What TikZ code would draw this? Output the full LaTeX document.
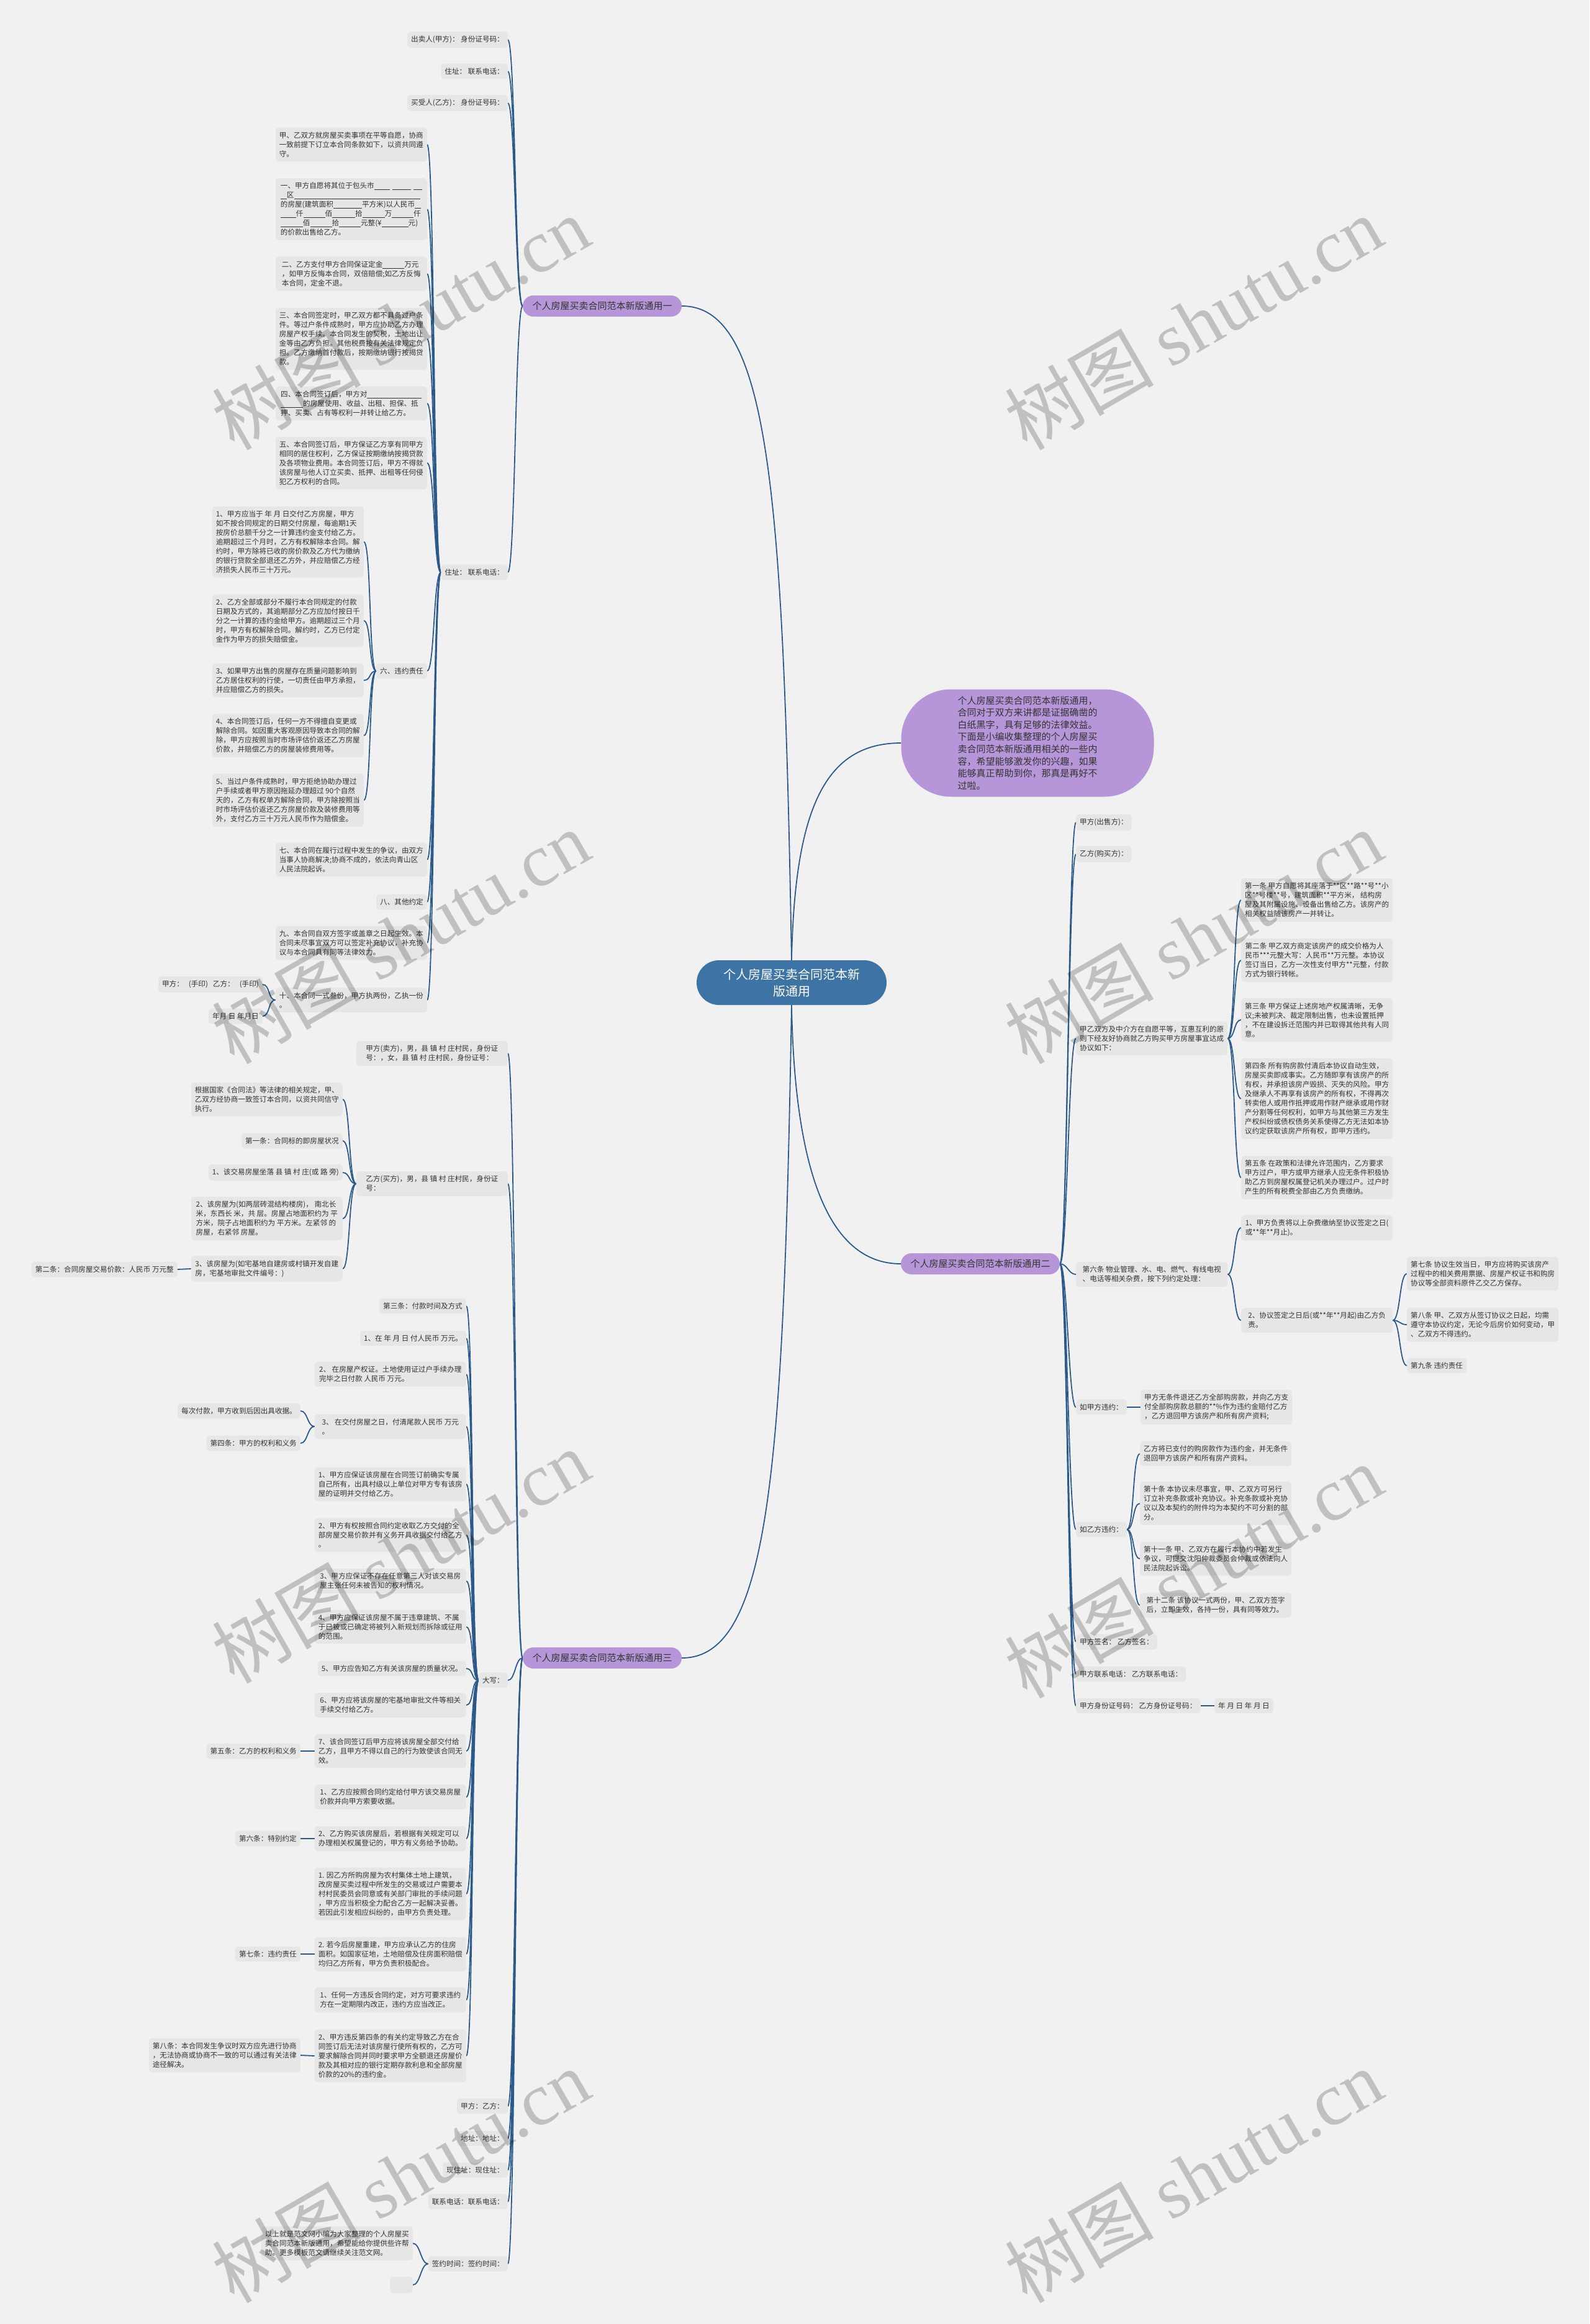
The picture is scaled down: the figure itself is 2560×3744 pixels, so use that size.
\documentclass[tikz,border=0pt]{standalone}
\usepackage{fontspec}
\setmainfont{Noto Sans CJK SC}
\newfontfamily\wmserif{Liberation Serif}
\definecolor{bgc}{RGB}{241,241,241}
\definecolor{boxc}{RGB}{230,230,230}
\definecolor{linec}{RGB}{43,90,138}
\definecolor{cenc}{RGB}{61,115,165}
\definecolor{purc}{RGB}{182,150,216}
\definecolor{txtc}{RGB}{51,51,51}
\newcommand\leaffont{\fontsize{11.6}{15}\selectfont}
\newcommand\blk[1]{\rule[-2pt]{#1pt}{0.6pt}}
\newcommand\Lcon[2]{\draw[conn] (#1.west) .. controls +(-12,0) and +(12,0) .. (#2.east);}
\newcommand\Rcon[2]{\draw[conn] (#1.east) .. controls +(12,0) and +(-12,0) .. (#2.west);}
\pgfdeclarelayer{back}
\pgfdeclarelayer{edges}
\pgfsetlayers{back,edges,main}
\tikzset{
  leaf/.style={fill=boxc, rounded corners=5pt, inner xsep=6pt, inner ysep=7pt, align=left, font=\leaffont, text=txtc},
  lf/.style={leaf, anchor=east},
  rf/.style={leaf, anchor=west},
  para/.style={minimum width=244pt},
  conn/.style={draw=linec, line width=1.8pt},
  branch/.style={fill=purc, rounded corners=17pt, minimum width=256pt, minimum height=34pt, font=\fontsize{15}{18}\selectfont, text=txtc, inner sep=0pt},
  wm/.style={rotate=30, text=black, opacity=0.2, inner sep=0pt, font=\fontsize{120}{120}\selectfont},
}
\begin{document}
\begin{tikzpicture}[x=1pt,y=-1pt]
\begin{pgfonlayer}{back}
\fill[bgc] (0,0) rectangle (2560,3744);
\end{pgfonlayer}
\useasboundingbox (0,0) rectangle (2560,3744);

% root and intro
\node[fill=cenc, rounded corners=36pt, minimum width=306pt, minimum height=72pt, align=center, font=\fontsize{20}{27}\selectfont, text=white] (root) at (1275,1583) {个人房屋买卖合同范本新\\版通用};
\node[fill=purc, rounded corners=80pt, minimum width=407pt, minimum height=173pt, align=left, font=\fontsize{15}{19.6}\selectfont, text=txtc] (intro) at (1655,1197) {个人房屋买卖合同范本新版通用，\\合同对于双方来讲都是证据确凿的\\白纸黑字，具有足够的法律效益。\\下面是小编收集整理的个人房屋买\\卖合同范本新版通用相关的一些内\\容，希望能够激发你的兴趣，如果\\能够真正帮助到你，那真是再好不\\过啦。};

\node[branch] (b1) at (970,493) {个人房屋买卖合同范本新版通用一};
\node[branch] (b2) at (1579,2036) {个人房屋买卖合同范本新版通用二};
\node[branch] (b3) at (970,2671) {个人房屋买卖合同范本新版通用三};

% ---------- branch 1 ----------
\node[lf] (a1) at (818,64) {出卖人(甲方)： 身份证号码：};
\node[lf] (a2) at (818,115) {住址： 联系电话：};
\node[lf] (a3) at (818,166) {买受人(乙方)： 身份证号码：};
\node[lf] (a4) at (818,922) {住址： 联系电话：};

\node[lf,para] (p1) at (688,233) {甲、乙双方就房屋买卖事项在平等自愿，协商\\一致前提下订立本合同条款如下，以资共同遵\\守。};
\node[lf,para] (p2) at (688,337) {一、甲方自愿将其位于包头市\blk{25}\hspace{4pt}\blk{30}\hspace{4pt}\blk{14}\\\blk{10}区\blk{203}\\的房屋(建筑面积\blk{46}平方米)以人民币\blk{10}\\\blk{25}仟\blk{35}佰\blk{37}拾\blk{36}万\blk{35}仟\\\blk{36}佰\blk{35}拾\blk{35}元整(¥\blk{43}元)\\的价款出售给乙方。};
\node[lf,para] (p3) at (688,441) {二、乙方支付甲方合同保证定金\blk{35}万元\\，如甲方反悔本合同，双倍赔偿;如乙方反悔\\本合同，定金不退。};
\node[lf,para] (p4) at (688,546) {三、本合同签定时，甲乙双方都不具备过户条\\件。等过户条件成熟时，甲方应协助乙方办理\\房屋产权手续。本合同发生的契税，土地出让\\金等由乙方负担。其他税费按有关法律规定负\\担。乙方缴纳首付款后，按期缴纳银行按揭贷\\款。};
\node[lf,para] (p5) at (688,650) {四、本合同签订后，甲方对\blk{88}\\\blk{36}的房屋使用、收益、出租、担保、抵\\押、买卖、占有等权利一并转让给乙方。};
\node[lf,para] (p6) at (688,746) {五、本合同签订后，甲方保证乙方享有同甲方\\相同的居住权利，乙方保证按期缴纳按揭贷款\\及各项物业费用。本合同签订后，甲方不得就\\该房屋与他人订立买卖、抵押、出租等任何侵\\犯乙方权利的合同。};
\node[lf] (p7) at (688,1081) {六、违约责任};
\node[lf,para] (p8) at (688,1385) {七、本合同在履行过程中发生的争议，由双方\\当事人协商解决;协商不成的，依法向青山区\\人民法院起诉。};
\node[lf] (p9) at (688,1453) {八、其他约定};
\node[lf,para] (p10) at (688,1519) {九、本合同自双方签字或盖章之日起生效。本\\合同未尽事宜双方可以签定补充协议，补充协\\议与本合同具有同等法律效力。};
\node[lf,para] (p11) at (688,1611) {十、本合同一式叁份，甲方执两份，乙执一份\\。};

\node[lf,para] (q1) at (586,873) {1、甲方应当于 年 月 日交付乙方房屋，甲方\\如不按合同规定的日期交付房屋，每逾期1天\\按房价总额千分之一计算违约金支付给乙方。\\逾期超过三个月时，乙方有权解除本合同。解\\约时，甲方除将已收的房价款及乙方代为缴纳\\的银行贷款全部退还乙方外，并应赔偿乙方经\\济损失人民币三十万元。};
\node[lf,para] (q2) at (586,1000) {2、乙方全部或部分不履行本合同规定的付款\\日期及方式的，其逾期部分乙方应加付按日千\\分之一计算的违约金给甲方。逾期超过三个月\\时，甲方有权解除合同。解约时，乙方已付定\\金作为甲方的损失赔偿金。};
\node[lf,para] (q3) at (586,1096) {3、如果甲方出售的房屋存在质量问题影响到\\乙方居住权利的行使，一切责任由甲方承担，\\并应赔偿乙方的损失。};
\node[lf,para] (q4) at (586,1185) {4、本合同签订后，任何一方不得擅自变更或\\解除合同。如因重大客观原因导致本合同的解\\除，甲方应按照当时市场评估价返还乙方房屋\\价款，并赔偿乙方的房屋装修费用等。};
\node[lf,para] (q5) at (586,1289) {5、当过户条件成熟时，甲方拒绝协助办理过\\户手续或者甲方原因拖延办理超过 90个自然\\天的，乙方有权单方解除合同，甲方除按照当\\时市场评估价返还乙方房屋价款及装修费用等\\外，支付乙方三十万元人民币作为赔偿金。};

\node[lf] (r1) at (423,1586) {甲方：\hspace{8pt}(手印)\hspace{8pt}乙方：\hspace{8pt}(手印)};
\node[lf] (r2) at (423,1637) {年月 日 年月日};

% ---------- branch 3 ----------
\node[lf,para] (c1) at (818,1697) {甲方(卖方)，男，县 镇 村 庄村民，身份证\\号：，女，县 镇 村 庄村民，身份证号：};
\node[lf,para] (c2) at (818,1907) {乙方(买方)，男，县 镇 村 庄村民，身份证\\号：};
\node[lf] (c3) at (818,2707) {大写：};
\node[lf] (c4) at (818,3393) {甲方：乙方：};
\node[lf] (c5) at (818,3445) {地址：地址：};
\node[lf] (c6) at (818,3496) {现住址：现住址：};
\node[lf] (c7) at (818,3547) {联系电话：联系电话：};
\node[lf] (c8) at (818,3647) {签约时间：签约时间：};

\node[lf,para] (d1) at (552,1771) {根据国家《合同法》等法律的相关规定，甲、\\乙双方经协商一致签订本合同，以资共同信守\\执行。};
\node[lf] (d2) at (552,1838) {第一条：合同标的即房屋状况};
\node[lf] (d3) at (552,1889) {1、该交易房屋坐落 县 镇 村 庄(或 路 旁)};
\node[lf,para] (d4) at (552,1963) {2、该房屋为(如两层砖混结构楼房)， 南北长\\米，东西长 米，共 层。房屋占地面积约为 平\\方米，院子占地面积约为 平方米。左紧邻 的\\房屋，右紧邻 房屋。};
\node[lf,para] (d5) at (552,2044) {3、该房屋为(如宅基地自建房或村镇开发自建\\房，宅基地审批文件编号：)};
\node[lf] (e1) at (286,2045) {第二条：合同房屋交易价款：人民币 万元整};

\node[lf] (f1) at (751,2104) {第三条：付款时间及方式};
\node[lf] (f2) at (751,2156) {1、在 年 月 日 付人民币 万元。};
\node[lf,para] (f3) at (751,2214) {2、 在房屋产权证。土地使用证过户手续办理\\完毕之日付款 人民币 万元。};
\node[lf,para] (f4) at (751,2298) {3、 在交付房屋之日，付清尾款人民币 万元\\。};
\node[lf,para] (f5) at (751,2391) {1、甲方应保证该房屋在合同签订前确实专属\\自己所有，出具村级以上单位对甲方专有该房\\屋的证明并交付给乙方。};
\node[lf,para] (f6) at (751,2473) {2、甲方有权按照合同约定收取乙方交付的全\\部房屋交易价款并有义务开具收据交付给乙方\\。};
\node[lf,para] (f7) at (751,2547) {3、甲方应保证不存在任意第三人对该交易房\\屋主张任何未被告知的权利情况。};
\node[lf,para] (f8) at (751,2621) {4、甲方应保证该房屋不属于违章建筑、不属\\于已被或已确定将被列入新规划而拆除或征用\\的范围。};
\node[lf] (f9) at (751,2688) {5、甲方应告知乙方有关该房屋的质量状况。};
\node[lf,para] (f10) at (751,2747) {6、甲方应将该房屋的宅基地审批文件等相关\\手续交付给乙方。};
\node[lf,para] (f11) at (751,2821) {7、该合同签订后甲方应将该房屋全部交付给\\乙方，且甲方不得以自己的行为致使该合同无\\效。};
\node[lf,para] (f12) at (751,2895) {1、乙方应按照合同约定给付甲方该交易房屋\\价款并向甲方索要收据。};
\node[lf,para] (f13) at (751,2962) {2、乙方购买该房屋后，若根据有关规定可以\\办理相关权属登记的，甲方有义务给予协助。};
\node[lf,para] (f14) at (751,3051) {1. 因乙方所购房屋为农村集体土地上建筑，\\改房屋买卖过程中所发生的交易或过户需要本\\村村民委员会同意或有关部门审批的手续问题\\，甲方应当积极全力配合乙方一起解决妥善。\\若因此引发相应纠纷的，由甲方负责处理。};
\node[lf,para] (f15) at (751,3148) {2. 若今后房屋重建，甲方应承认乙方的住房\\面积。如国家征地，土地赔偿及住房面积赔偿\\均归乙方所有，甲方负责积极配合。};
\node[lf,para] (f16) at (751,3222) {1、任何一方违反合同约定，对方可要求违约\\方在一定期限内改正，违约方应当改正。};
\node[lf,para] (f17) at (751,3312) {2、甲方违反第四条的有关约定导致乙方在合\\同签订后无法对该房屋行使所有权的，乙方可\\要求解除合同并同时要求甲方全额退还房屋价\\款及其相对应的银行定期存款利息和全部房屋\\价款的20\%的违约金。};

\node[lf] (g1) at (484,2273) {每次付款，甲方收到后因出具收据。};
\node[lf] (g2) at (484,2325) {第四条：甲方的权利和义务};
\node[lf] (h1) at (484,2821) {第五条：乙方的权利和义务};
\node[lf] (h2) at (484,2962) {第六条：特别约定};
\node[lf] (h3) at (484,3148) {第七条：违约责任};
\node[lf,para] (h4) at (484,3311) {第八条：本合同发生争议时双方应先进行协商\\，无法协商或协商不一致的可以通过有关法律\\途径解决。};

\node[lf,para] (k1) at (665,3614) {以上就是范文网小编为大家整理的个人房屋买\\卖合同范本新版通用，希望能给你提供些许帮\\助。更多模板范文请继续关注范文网。};
\node[lf, minimum width=37pt, minimum height=26pt, inner sep=0pt] (k2) at (665,3681) {};

% ---------- branch 2 ----------
\node[rf] (s1) at (1733,1325) {甲方(出售方)：};
\node[rf] (s2) at (1733,1376) {乙方(购买方)：};
\node[rf,para] (s3) at (1733,1673) {甲乙双方及中介方在自愿平等，互惠互利的原\\则下经友好协商就乙方购买甲方房屋事宜达成\\协议如下：};
\node[rf,para] (s4) at (1733,2053) {第六条 物业管理、水、电、燃气、有线电视\\、电话等相关杂费，按下列约定处理：};
\node[rf] (s5) at (1733,2267) {如甲方违约：};
\node[rf] (s6) at (1733,2464) {如乙方违约：};
\node[rf] (s7) at (1733,2645) {甲方签名： 乙方签名：};
\node[rf] (s8) at (1733,2697) {甲方联系电话： 乙方联系电话：};
\node[rf] (s9) at (1733,2748) {甲方身份证号码： 乙方身份证号码：};

\node[rf,para] (t1) at (1999,1450) {第一条 甲方自愿将其座落于**区**路**号**小\\区**号楼**号，建筑面积**平方米， 结构房\\屋及其附属设施、设备出售给乙方。该房产的\\相关权益随该房产一并转让。};
\node[rf,para] (t2) at (1999,1547) {第二条 甲乙双方商定该房产的成交价格为人\\民币***元整大写：人民币**万元整。本协议\\签订当日，乙方一次性支付甲方**元整，付款\\方式为银行转帐。};
\node[rf,para] (t3) at (1999,1643) {第三条 甲方保证上述房地产权属清晰，无争\\议;未被判决、裁定限制出售，也未设置抵押\\，不在建设拆迁范围内并已取得其他共有人同\\意。};
\node[rf,para] (t4) at (1999,1770) {第四条 所有购房款付清后本协议自动生效，\\房屋买卖即成事实。乙方随即享有该房产的所\\有权，并承担该房产毁损、灭失的风险。甲方\\及继承人不再享有该房产的所有权，不得再次\\转卖他人或用作抵押或用作财产继承或用作财\\产分割等任何权利，如甲方与其他第三方发生\\产权纠纷或债权债务关系使得乙方无法如本协\\议约定获取该房产所有权，即甲方违约。};
\node[rf,para] (t5) at (1999,1897) {第五条 在政策和法律允许范围内，乙方要求\\甲方过户，甲方或甲方继承人应无条件积极协\\助乙方到房屋权属登记机关办理过户。过户时\\产生的所有税费全部由乙方负责缴纳。};

\node[rf,para] (u1) at (1999,1978) {1、甲方负责将以上杂费缴纳至协议签定之日(\\或**年**月止)。};
\node[rf,para] (u2) at (1999,2127) {2、协议签定之日后(或**年**月起)由乙方负\\责。};
\node[rf,para] (v1) at (2266,2052) {第七条 协议生效当日，甲方应将购买该房产\\过程中的相关费用票据、房屋产权证书和购房\\协议等全部资料原件乙交乙方保存。};
\node[rf,para] (v2) at (2266,2134) {第八条 甲、乙双方从签订协议之日起，均需\\遵守本协议约定，无论今后房价如何变动，甲\\、乙双方不得违约。};
\node[rf] (v3) at (2266,2200) {第九条 违约责任};

\node[rf,para] (w1) at (1837,2267) {甲方无条件退还乙方全部购房款，并向乙方支\\付全部购房款总额的**\%作为违约金赔付乙方\\，乙方退回甲方该房产和所有房产资料;};

\node[rf,para] (x1) at (1836,2342) {乙方将已支付的购房款作为违约金，并无条件\\退回甲方该房产和所有房产资料。};
\node[rf,para] (x2) at (1836,2422) {第十条 本协议未尽事宜，甲、乙双方可另行\\订立补充条款或补充协议。补充条款或补充协\\议以及本契约的附件均为本契约不可分割的部\\分。};
\node[rf,para] (x3) at (1836,2511) {第十一条 甲、乙双方在履行本协约中若发生\\争议，可提交沈阳仲裁委员会仲裁或依法向人\\民法院起诉讼。};
\node[rf,para] (x4) at (1836,2586) {第十二条 该协议一式两份，甲、乙双方签字\\后，立即生效，各持一份，具有同等效力。};

\node[rf] (y1) at (1956,2748) {年 月 日 年 月 日};

% ---------- connectors ----------
\begin{pgfonlayer}{edges}
\draw[conn] (root.north) .. controls (1262,800) and (1240,493) .. (b1.east);
\draw[conn] (root.north) .. controls (1280,1300) and (1330,1197) .. (intro.west);
\draw[conn] (root.south) .. controls (1280,1900) and (1340,2036) .. (b2.west);
\draw[conn] (root.south) .. controls (1262,2366) and (1240,2671) .. (b3.east);

\foreach \n in {a1,a2,a3,a4} {\Lcon{b1}{\n}}
\foreach \n in {p1,p2,p3,p4,p5,p6,p7,p8,p9,p10,p11} {\Lcon{a4}{\n}}
\foreach \n in {q1,q2,q3,q4,q5} {\Lcon{p7}{\n}}
\foreach \n in {r1,r2} {\Lcon{p11}{\n}}

\foreach \n in {c1,c2,c3,c4,c5,c6,c7,c8} {\Lcon{b3}{\n}}
\foreach \n in {d1,d2,d3,d4,d5} {\Lcon{c2}{\n}}
\draw[conn] (d5.west) -- (e1.east);
\foreach \n in {f1,f2,f3,f4,f5,f6,f7,f8,f9,f10,f11,f12,f13,f14,f15,f16,f17} {\Lcon{c3}{\n}}
\foreach \n in {g1,g2} {\Lcon{f4}{\n}}
\draw[conn] (f11.west) -- (h1.east);
\draw[conn] (f13.west) -- (h2.east);
\draw[conn] (f15.west) -- (h3.east);
\draw[conn] (f17.west) -- (h4.east);
\foreach \n in {k1,k2} {\Lcon{c8}{\n}}

\foreach \n in {s1,s2,s3,s4,s5,s6,s7,s8,s9} {\Rcon{b2}{\n}}
\foreach \n in {t1,t2,t3,t4,t5} {\Rcon{s3}{\n}}
\foreach \n in {u1,u2} {\Rcon{s4}{\n}}
\foreach \n in {v1,v2,v3} {\Rcon{u2}{\n}}
\draw[conn] (s5.east) -- (w1.west);
\foreach \n in {x1,x2,x3,x4} {\Rcon{s6}{\n}}
\draw[conn] (s9.east) -- (y1.west);
\end{pgfonlayer}

% ---------- watermarks ----------
\foreach \wx/\wy [count=\i] in {645/520, 1922/520, 645/1509, 1922/1509, 645/2507, 1922/2531, 645/3505, 1922/3505}
  {\node[wm] (wm\i) at (\wx,\wy) {树图 {\wmserif shutu.cn}};}
\end{tikzpicture}
\end{document}
